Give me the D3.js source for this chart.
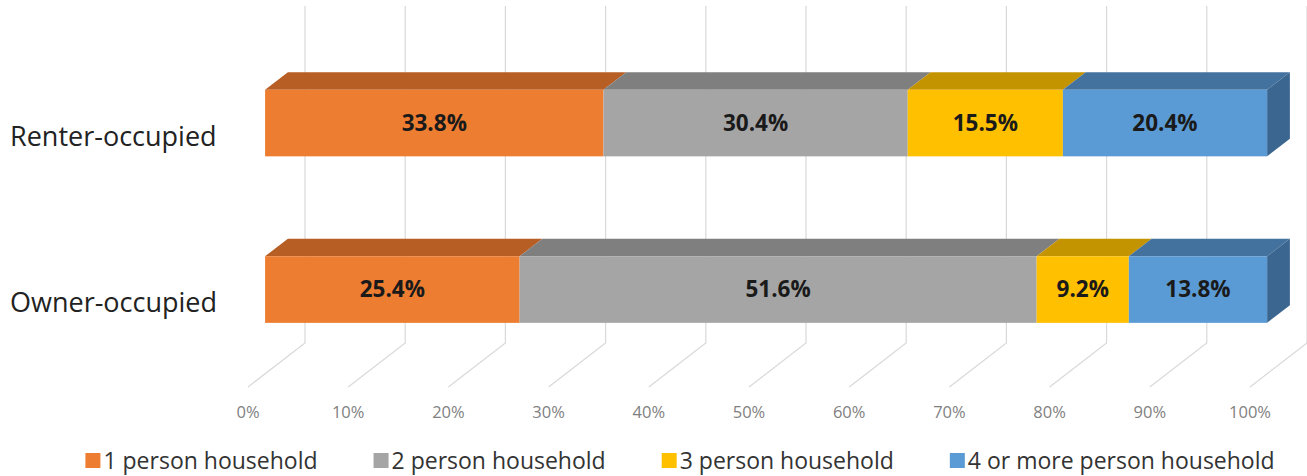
<!DOCTYPE html>
<html>
<head>
<meta charset="utf-8">
<script src="https://cdn.jsdelivr.net/npm/d3@7"></script>
<style>
  body { margin: 0; background: #fff; }
  svg { display: block; font-family: "Open Sans", sans-serif; }
</style>
</head>
<body>
<svg id="chart" width="1307" height="476"></svg>
<script>
// chart data
var categories = ["Renter-occupied", "Owner-occupied"];
var seriesNames = ["1 person household", "2 person household", "3 person household", "4 or more person household"];
var renterValues = [33.8, 30.4, 15.5, 20.4];
var ownerValues = [25.4, 51.6, 9.2, 13.8];
var tickValues = [0, 0.1, 0.2, 0.3, 0.4, 0.5, 0.6, 0.7, 0.8, 0.9, 1.0];
var tickLabels = ["0%", "10%", "20%", "30%", "40%", "50%", "60%", "70%", "80%", "90%", "100%"];

var frontColors = ["#ED7D31", "#A5A5A5", "#FFC000", "#5B9BD5"];
var topColors = ["#B65E23", "#7F7F7F", "#C49300", "#44729F"];
var sideColor = "#3B6690";

var svg = d3.select("#chart");

// 3D projection: depth 0 = front edge of floor, 1 = back wall
var DX = 57, DY = 44;
var barFront = 0.3, barBack = 0.7;

var xs = d3.scaleLinear().domain([0, 1]).range([248, 1250]);
var ys = d3.scaleBand().domain(categories)
    .range([53, 386]).paddingInner(0.6).paddingOuter(0.3);
var floorY = 387, wallTop = 6;

function px(v, d) { return xs(v) + d * DX; }
function py(y, d) { return y - d * DY; }

var rows = categories.map(function (c, i) {
    var vals = i == 0 ? renterValues : ownerValues;
    var row = { category: c };
    seriesNames.forEach(function (s, j) { row[s] = vals[j]; });
    return row;
});

var stacked = d3.stack().keys(seriesNames).offset(d3.stackOffsetExpand)(rows);

// gridlines on back wall + floor
var grid = svg.append("g").attr("class", "grid")
    .attr("stroke", "#D9D9D9").attr("stroke-width", 1.2).attr("fill", "none");
tickValues.forEach(function (v) {
    grid.append("path")
        .attr("d", d3.line()([
            [px(v, 1), wallTop],
            [px(v, 1), py(floorY, 1)],
            [px(v, 0), floorY]
        ]));
});

// tick labels
svg.append("g").selectAll("text")
    .data(tickValues)
    .enter().append("text")
    .attr("x", function (d) { return xs(d); })
    .attr("y", 418)
    .attr("text-anchor", "middle")
    .attr("font-size", 16.5)
    .attr("fill", "#7F7F7F")
    .text(function (d, i) { return tickLabels[i]; });

// bars
var bars = svg.append("g").attr("class", "bars");
categories.forEach(function (c, ci) {
    var y0 = ys(c), y1 = ys(c) + ys.bandwidth();
    stacked.forEach(function (layer, si) {
        var seg = layer[ci];
        var a = seg[0], b = seg[1];
        // top face
        bars.append("path")
            .attr("fill", topColors[si])
            .attr("d", d3.line()([
                [px(a, barFront), py(y0, barFront)],
                [px(b, barFront), py(y0, barFront)],
                [px(b, barBack), py(y0, barBack)],
                [px(a, barBack), py(y0, barBack)]
            ]) + "Z");
        // right side face of the last segment
        if (si == stacked.length - 1) {
            bars.append("path")
                .attr("fill", sideColor)
                .attr("d", d3.line()([
                    [px(b, barFront), py(y0, barFront)],
                    [px(b, barBack), py(y0, barBack)],
                    [px(b, barBack), py(y1, barBack)],
                    [px(b, barFront), py(y1, barFront)]
                ]) + "Z");
        }
        // front face
        bars.append("rect")
            .attr("x", px(a, barFront))
            .attr("y", py(y0, barFront))
            .attr("width", px(b, barFront) - px(a, barFront))
            .attr("height", y1 - y0)
            .attr("fill", frontColors[si]);
        // value label
        bars.append("text")
            .attr("x", (px(a, barFront) + px(b, barFront)) / 2)
            .attr("y", py((y0 + y1) / 2, barFront))
            .attr("dy", "0.35em")
            .attr("text-anchor", "middle")
            .attr("font-size", 22.5)
            .attr("font-weight", "bold")
            .attr("fill", "#1a1a1a")
            .text(rows[ci][seriesNames[si]].toFixed(1) + "%");
    });
});

// category labels
svg.append("g").selectAll("text")
    .data(categories)
    .enter().append("text")
    .attr("x", 10)
    .attr("y", function (d) { return ys(d) + ys.bandwidth() / 2; })
    .attr("dy", "0.35em")
    .attr("font-size", 27)
    .attr("fill", "#222")
    .text(function (d) { return d; });

// legend
var legend = svg.append("g").attr("class", "legend");
var lx = 0;
seriesNames.forEach(function (s, i) {
    var item = legend.append("g").attr("transform", `translate(${lx},0)`);
    item.append("rect")
        .attr("x", 0).attr("y", -8)
        .attr("width", 15).attr("height", 15)
        .attr("fill", frontColors[i]);
    var t = item.append("text")
        .attr("x", 18).attr("y", 0)
        .attr("dy", "0.35em")
        .attr("font-size", 23)
        .attr("fill", "#333")
        .text(s);
    lx += 18 + t.node().getComputedTextLength() + 56;
});
var legendW = lx - 56;
legend.attr("transform", `translate(${680 - legendW / 2},461)`);
</script>
</body>
</html>
